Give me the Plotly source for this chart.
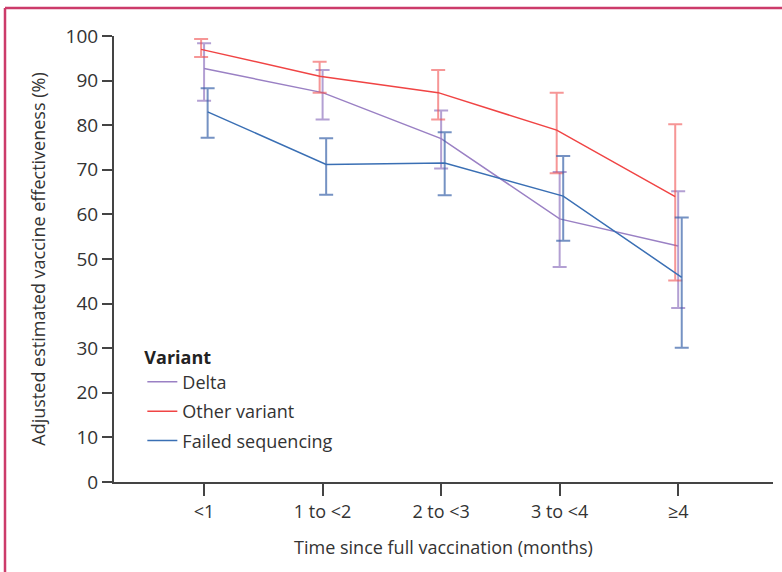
import plotly.graph_objects as go

categories = ["<1", "1 to <2", "2 to <3", "3 to <4", "≥4"]

delta_ve = [92.7, 87.3, 77.0, 59.0, 52.9]
delta_lo = [85.5, 81.3, 70.3, 48.2, 39.0]
delta_hi = [98.4, 92.4, 83.3, 69.5, 65.2]

other_ve = [97.0, 91.0, 87.3, 78.9, 64.0]
other_lo = [95.3, 87.3, 81.3, 69.2, 45.2]
other_hi = [99.3, 94.2, 92.4, 87.3, 80.2]

failed_ve = [83.0, 71.2, 71.5, 64.1, 45.9]
failed_lo = [77.2, 64.4, 64.3, 54.1, 30.1]
failed_hi = [88.3, 77.1, 78.4, 73.1, 59.3]

series = [
    ("Delta", delta_ve, delta_lo, delta_hi, "#9a80c4", "rgba(154,128,196,0.75)", 0.0),
    ("Other variant", other_ve, other_lo, other_hi, "#f04444", "rgba(240,80,80,0.6)", -0.025),
    ("Failed sequencing", failed_ve, failed_lo, failed_hi, "#3a6fb4", "rgba(58,100,170,0.7)", 0.03),
]

FONT = "Open Sans, Noto Sans, sans-serif"
TXT = "#333333"

fig = go.Figure()
for name, ve, lo, hi, col, ecol, off in series:
    xs = [i + off for i in range(len(categories))]
    fig.add_trace(go.Scatter(
        x=xs, y=ve, mode="lines", name=name, legendgroup=name,
        line=dict(color=col, width=1.5),
        error_y=dict(type="data", symmetric=False,
                     array=[h - v for h, v in zip(hi, ve)],
                     arrayminus=[v - l for v, l in zip(ve, lo)],
                     color=ecol, thickness=2, width=7),
    ))

fig.update_layout(
    width=782, height=572,
    margin=dict(l=114, r=9, t=36, b=90),
    paper_bgcolor="white", plot_bgcolor="white",
    font=dict(family=FONT, size=18, color=TXT),
    showlegend=True,
    legend=dict(
        title=dict(text="<b>Variant</b>", font=dict(family=FONT, size=18, color="#222222")),
        x=0.043, y=0.318, xanchor="left", yanchor="top",
        bgcolor="rgba(0,0,0,0)", font=dict(family=FONT, size=18, color=TXT),
        traceorder="grouped", tracegroupgap=3, itemwidth=30,
    ),
    xaxis=dict(
        range=[-0.76, 4.80], tickmode="array",
        tickvals=list(range(len(categories))), ticktext=categories,
        showline=True, linecolor="#444444", linewidth=2,
        ticks="outside", ticklen=12, tickwidth=1.5, tickcolor="#444444",
        showgrid=False, zeroline=False,
        title=dict(text="Time since full vaccination (months)", standoff=20,
                   font=dict(family=FONT, size=18, color=TXT)),
        tickfont=dict(family=FONT, size=18, color=TXT),
    ),
    yaxis=dict(
        range=[0, 100], tickmode="array", tickvals=list(range(0, 101, 10)),
        showline=True, linecolor="#444444", linewidth=2,
        ticks="outside", ticklen=10, tickwidth=1.5, tickcolor="#444444",
        showgrid=False, zeroline=False,
        title=dict(text="Adjusted estimated vaccine effectiveness (%)", standoff=15,
                   font=dict(family=FONT, size=18, color=TXT)),
        tickfont=dict(family=FONT, size=19, color=TXT),
    ),
    shapes=[
        dict(type="line", xref="paper", yref="paper",
             x0=(5 - 114) / 659, x1=(782 - 114) / 659,
             y0=(482 - 8) / 446, y1=(482 - 8) / 446,
             line=dict(color="#cc3b6a", width=2.5)),
        dict(type="line", xref="paper", yref="paper",
             x0=(5 - 114) / 659, x1=(5 - 114) / 659,
             y0=(482 - 8) / 446, y1=(482 - 575) / 446,
             line=dict(color="#cc3b6a", width=2.5)),
    ],
)

fig.write_html("out.html", config={"displayModeBar": False},
               post_script="document.body.style.margin='0';")
